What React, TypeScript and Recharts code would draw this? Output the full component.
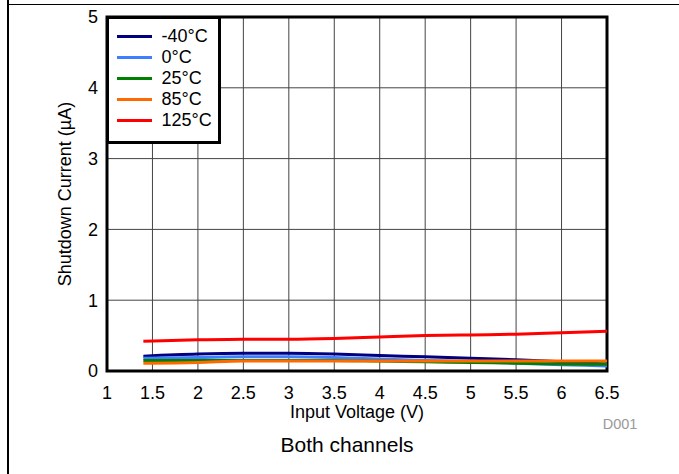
import React from 'react';
import { LineChart, Line, XAxis, YAxis, CartesianGrid, ReferenceArea } from 'recharts';

const voltages = [1.4, 2, 2.5, 3, 3.5, 4, 4.5, 5, 5.5, 6, 6.5];
const minus40 = [0.21, 0.24, 0.25, 0.25, 0.24, 0.22, 0.2, 0.18, 0.16, 0.13, 0.1];
const zero = [0.18, 0.19, 0.2, 0.2, 0.19, 0.17, 0.15, 0.13, 0.11, 0.09, 0.07];
const room = [0.15, 0.15, 0.15, 0.15, 0.15, 0.14, 0.13, 0.12, 0.11, 0.1, 0.095];
const hot = [0.11, 0.12, 0.14, 0.14, 0.14, 0.14, 0.14, 0.14, 0.14, 0.14, 0.14];
const hottest = [0.42, 0.44, 0.45, 0.45, 0.46, 0.48, 0.5, 0.51, 0.52, 0.54, 0.56];

const xTicks = [1, 1.5, 2, 2.5, 3, 3.5, 4, 4.5, 5, 5.5, 6, 6.5];
const yTicks = [0, 1, 2, 3, 4, 5];

const series = [
  { key: 'm40', name: '-40°C', color: '#000080', values: minus40 },
  { key: 'z0', name: '0°C', color: '#3f7fff', values: zero },
  { key: 't25', name: '25°C', color: '#008000', values: room },
  { key: 't85', name: '85°C', color: '#ff6a00', values: hot },
  { key: 't125', name: '125°C', color: '#ff0000', values: hottest },
];

const data = voltages.map((v, i) => {
  const row: Record<string, number> = { v };
  series.forEach((s) => {
    row[s.key] = s.values[i];
  });
  return row;
});

const FONT = '"Liberation Sans", Arial, sans-serif';

// boxed legend sitting in the top left corner of the plot
function LegendBox() {
  return (
    <div
      style={{
        position: 'absolute',
        left: 105.5,
        top: 15.5,
        boxSizing: 'border-box',
        width: 115,
        height: 128,
        border: '3px solid #000',
        background: '#fff',
        padding: '7px 0 0 8px',
        fontSize: 18,
        color: '#000',
      }}
    >
      {series.map((s) => (
        <div key={s.key} style={{ display: 'flex', alignItems: 'center', height: 21 }}>
          <span style={{ width: 35, height: 3, background: s.color, display: 'inline-block', marginRight: 10 }} />
          <span>{s.name}</span>
        </div>
      ))}
    </div>
  );
}

export default function App() {
  return (
    <div style={{ position: 'absolute', left: 0, top: 0, width: 679, height: 474, background: '#fff', fontFamily: FONT }}>
      {/* page frame */}
      <div style={{ position: 'absolute', left: 7, top: 0, width: 1.5, height: 474, background: '#000' }} />
      <div style={{ position: 'absolute', left: 7, top: 3.5, width: 672, height: 1.5, background: '#000' }} />

      <LineChart width={679} height={474} data={data} margin={{ top: 17, right: 72, bottom: 73, left: 57 }}>
        <CartesianGrid stroke="#444" strokeWidth={1} />
        <XAxis
          dataKey="v"
          type="number"
          domain={[1, 6.5]}
          ticks={xTicks}
          height={30}
          tickSize={0}
          tickMargin={15}
          axisLine={false}
          tick={{ fill: '#000', fontSize: 18, fontFamily: FONT }}
        />
        <YAxis
          type="number"
          domain={[0, 5]}
          ticks={yTicks}
          width={50}
          tickSize={0}
          tickMargin={9}
          axisLine={false}
          tick={{ fill: '#000', fontSize: 18, fontFamily: FONT }}
        />
        {series.map((s) => (
          <Line
            key={s.key}
            dataKey={s.key}
            name={s.name}
            type="monotone"
            stroke={s.color}
            strokeWidth={3}
            dot={false}
            isAnimationActive={false}
          />
        ))}
        <ReferenceArea x1={1} x2={6.5} y1={0} y2={5} fill="none" stroke="#000" strokeWidth={3} ifOverflow="visible" />
      </LineChart>

      <LegendBox />

      <div
        style={{
          position: 'absolute',
          left: 65,
          top: 194,
          transform: 'translate(-50%, -50%) rotate(-90deg)',
          whiteSpace: 'nowrap',
          fontSize: 18,
        }}
      >
        Shutdown Current (µA)
      </div>
      <div style={{ position: 'absolute', left: 357, top: 412, transform: 'translate(-50%, -50%)', whiteSpace: 'nowrap', fontSize: 18 }}>
        Input Voltage (V)
      </div>
      <div style={{ position: 'absolute', left: 620, top: 424, transform: 'translate(-50%, -50%)', fontSize: 14.5, color: '#999' }}>
        D001
      </div>
      <div style={{ position: 'absolute', left: 347, top: 445, transform: 'translate(-50%, -50%)', whiteSpace: 'nowrap', fontSize: 21 }}>
        Both channels
      </div>
    </div>
  );
}
